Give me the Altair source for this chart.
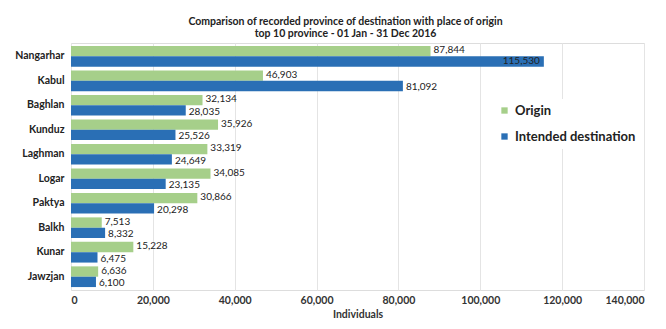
import altair as alt
import pandas as pd

provinces = ["Nangarhar", "Kabul", "Baghlan", "Kunduz", "Laghman",
             "Logar", "Paktya", "Balkh", "Kunar", "Jawzjan"]
origin = [87844, 46903, 32134, 35926, 33319, 34085, 30866, 7513, 15228, 6636]
destination = [115530, 81092, 28035, 25526, 24649, 23135, 20298, 8332, 6475, 6100]
series = ["Origin", "Intended destination"]
colors = ["#a6cf8a", "#2a6fb5"]

rows = []
for p, o, d in zip(provinces, origin, destination):
    rows.append({"province": p, "series": series[0], "value": o})
    rows.append({"province": p, "series": series[1], "value": d})
df = pd.DataFrame(rows)

FONT = "Lato"

y_enc = alt.Y("province:N", sort=provinces, title=None,
              scale=alt.Scale(paddingInner=0.155, paddingOuter=0.12),
              axis=alt.Axis(labelFont=FONT, labelFontSize=10.5, labelFontWeight="bold",
                            labelColor="#222222", ticks=False, domain=False,
                            labelPadding=7, grid=False))
yoff = alt.YOffset("series:N", sort=series, scale=alt.Scale(paddingInner=0, paddingOuter=0))
x_enc = alt.X("value:Q", title="Individuals",
              scale=alt.Scale(domain=[0, 140000], nice=False),
              axis=alt.Axis(values=list(range(0, 140001, 20000)), format=",d",
                            labelFont=FONT, labelFontSize=10.5, labelColor="#333333",
                            labelFontWeight="bold",
                            titleFont=FONT, titleFontSize=10.5, titleFontWeight="bold",
                            titleColor="#333333", titlePadding=4, labelPadding=5,
                            ticks=False, domain=False, grid=True,
                            gridColor="#e4e4e4", gridWidth=1))

base = alt.Chart(df)

bars = base.mark_bar().encode(
    y=y_enc, yOffset=yoff, x=x_enc,
    color=alt.Color("series:N", sort=series,
                    scale=alt.Scale(domain=series, range=colors),
                    legend=alt.Legend(title=None, orient="none", legendX=422, legendY=56,
                                      symbolType="square", symbolSize=40,
                                      labelFont=FONT, labelFontSize=13, labelFontWeight="bold",
                                      labelColor="#222222", rowPadding=12,
                                      fillColor="white", padding=5,
                                      symbolStrokeWidth=0)),
)

text_y = alt.Y("province:N", sort=provinces)
text_yoff = alt.YOffset("series:N", sort=series)

labels_origin = base.transform_filter("datum.series == 'Origin'").mark_text(
    align="left", baseline="middle", dx=3, dy=-1, font=FONT, fontSize=10, color="#222222"
).encode(y=text_y, yOffset=text_yoff,
         x="value:Q", text=alt.Text("value:Q", format=",d"))

labels_dest_out = base.transform_filter(
    "datum.series != 'Origin' && datum.value < 100000").mark_text(
    align="left", baseline="middle", dx=3, dy=1.5, font=FONT, fontSize=10, color="#222222"
).encode(y=text_y, yOffset=text_yoff,
         x="value:Q", text=alt.Text("value:Q", format=",d"))

labels_in = base.transform_filter(
    "datum.series != 'Origin' && datum.value >= 100000").mark_text(
    align="right", baseline="middle", dx=-4, font=FONT, fontSize=10, color="#222222"
).encode(y=text_y, yOffset=text_yoff,
         x="value:Q", text=alt.Text("value:Q", format=",d"))

chart = alt.layer(bars, labels_origin, labels_dest_out, labels_in).properties(
    width=573, height=247,
    title=alt.TitleParams(
        text=["Comparison of recorded province of destination with place of origin",
              "top 10 province - 01 Jan - 31 Dec 2016"],
        font=FONT, fontSize=10.5, fontWeight="bold", color="#222222",
        anchor="middle", dx=-12, offset=4, lineHeight=12),
    autosize="none",
    padding={"left": 63, "top": 35, "right": 14, "bottom": 31},
).configure_view(stroke=None).configure(background="white")

chart.save("out.html", embed_options={"renderer": "svg", "actions": False})
